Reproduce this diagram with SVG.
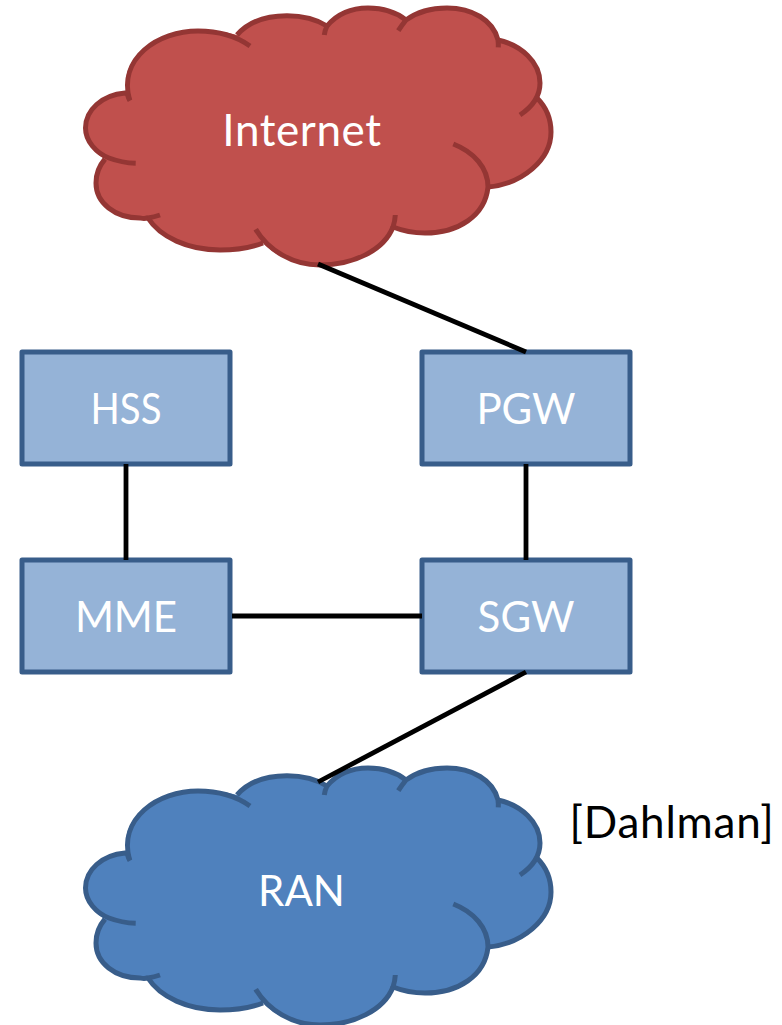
<svg xmlns="http://www.w3.org/2000/svg" xmlns:xlink="http://www.w3.org/1999/xlink" width="782" height="1025" viewBox="0 0 782 1025">
<style>
text{font-family:Lato,"Liberation Sans",sans-serif;font-size:42px;fill:#fff;stroke:none;text-anchor:middle}
.box{fill:#95B3D7;stroke:#385D8A;stroke-width:5;stroke-linejoin:round}
.fill{stroke:none}
.arc{fill:none;stroke-width:5}
.red{fill:#C0504D;stroke:#943634}
.blue{fill:#4F81BD;stroke:#385D8A}
#connectors line{stroke:#000;stroke-width:4.800}
</style>
<defs>
<path id="cf" class="fill" d="M127,93C118,58 158,31 198,31C213,31 227,32 237,35C250,20 268,15.700 287,15.700C302,15.700 316,19 327,26C338,13 352,8 368,8C383,8 396,12 406,20C417,12 431,8 447,8C472,8 493,20 498,40C521,45 540,62 540,83C540,89 539,94 537,98C546,107 551,119 551,132C551,160 522,184 488,187C485,216 458,233 425,233C414,233 403,231 393,227C384,250 354,265 320,265C296,265 275,256 263,243C250,248 236,250 220,250C188,250 160,237 148,218C143,219 141,218 140,218C115,218 96,203 96,183C96,174 99,166 105,159C93,153 85.500,141 85.500,128C85.500,110 102,95 125,93Z"/>
<g id="ca" class="arc">
<path d="M129.500,100C118,58 158,31 198,31C218,31 236,36 250,46"/>
<path d="M237,35C250,20 268,15.700 287,15.700C302,15.700 316,19 327,26Q325,30 324.300,35"/>
<path d="M327,26C338,13 352,8 368,8C383,8 396,12 406,20"/>
<path d="M398.300,30.700Q402,25 406,20C417,12 431,8 447,8C472,8 493,20 498,40Q498.500,44 498.300,47.300"/>
<path d="M498,40C521,45 540,62 540,83C540,96 532,107 520,115"/>
<path d="M537,98C546,107 551,119 551,132C551,160 522,184 488,187"/>
<path d="M453.300,144C474,152 488,168 488,187C485,216 458,233 425,233C414,233 403,231 393,227Q395,221 395.300,215"/>
<path d="M393,227C384,250 354,265 320,265C292,265 268,250 255.700,229.300"/>
<path d="M263,243C250,248 236,250 220,250C188,250 160,237 148,218Q154,217 160,215"/>
<path d="M148,218C143,219 141,218 140,218C115,218 96,203 96,183C96,174 99,166 105,159"/>
<path d="M135.700,163.300C126,163 117,161 109,158C96,153 85.500,141 85.500,128C85.500,110 102,95 125,93L127,93Q128,97 130,100.700"/>
</g>
</defs>
<g id="internet" class="red">
<use xlink:href="#cf"/><use xlink:href="#ca"/>
<text x="302" y="146" style="font-size:44px;letter-spacing:.6px">Internet</text>
</g>
<g id="ran" class="blue">
<g transform="translate(0,760)"><use xlink:href="#cf"/><use xlink:href="#ca"/></g>
<text x="301.500" y="906">RAN</text>
</g>
<g id="hss"><rect class="box" x="22" y="352" width="208" height="112"/><text x="126" y="424" textLength="71" lengthAdjust="spacingAndGlyphs">HSS</text></g>
<g id="pgw"><rect class="box" x="422" y="352" width="208" height="112"/><text x="526" y="424">PGW</text></g>
<g id="mme"><rect class="box" x="22" y="560" width="208" height="112"/><text x="126" y="632">MME</text></g>
<g id="sgw"><rect class="box" x="422" y="560" width="208" height="112"/><text x="526" y="632">SGW</text></g>
<g id="connectors">
<line x1="318" y1="264" x2="526" y2="352"/>
<line x1="126" y1="464" x2="126" y2="560"/>
<line x1="526" y1="464" x2="526" y2="560"/>
<line x1="232" y1="616" x2="422" y2="616"/>
<line x1="526" y1="672" x2="318" y2="782"/>
</g>
<text id="citation" x="672" y="838" style="fill:#000;font-size:44px;letter-spacing:.8px">[Dahlman]</text>
</svg>
